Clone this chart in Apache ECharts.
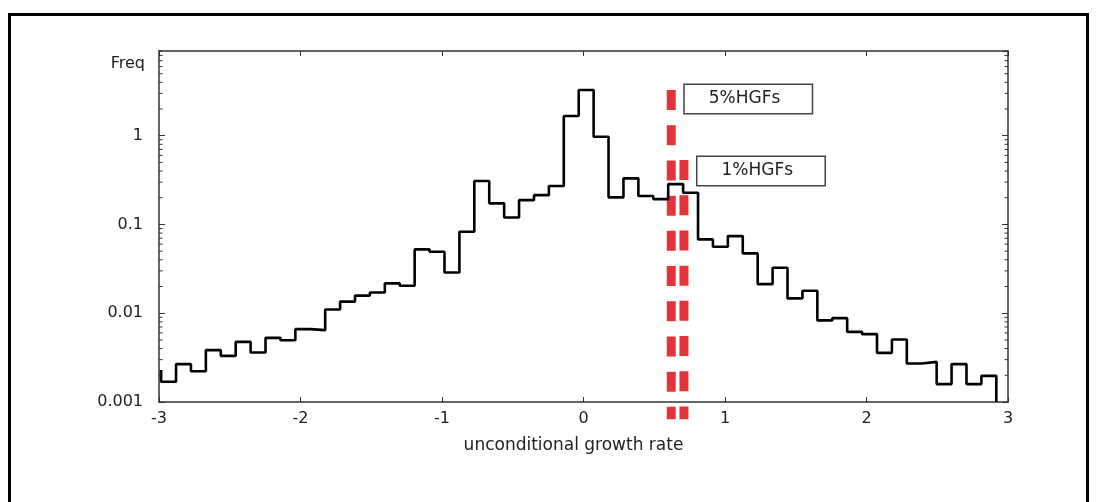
<!DOCTYPE html>
<html>
<head>
<meta charset="utf-8">
<title>unconditional growth rate</title>
<style>
  body { margin: 0; overflow: hidden; background: #fff; }
  #frame { position: absolute; left: 8px; top: 13px; width: 1081px; height: 600px;
           box-sizing: border-box; border: 3px solid #000; }
  #main { position: absolute; left: 0; top: 0; width: 1102px; height: 502px; }
</style>
</head>
<body>
<div id="frame"></div>
<div id="main"></div>
<script src="https://cdn.jsdelivr.net/npm/echarts@6/dist/echarts.min.js"></script>
<script type="text/javascript">
    // histogram bins (left edge of first bin, bin width) and frequencies
    var binStart = -2.985;
    var binWidth = 0.1054;
    var leftEdgeFreq = 0.0023;
    var freq = [0.00169, 0.00267, 0.00222, 0.00384, 0.00331, 0.00476, 0.00361, 0.00528,
                0.00497, 0.00662, 0.00645, 0.0110, 0.0135, 0.0158, 0.0171, 0.0217,
                0.0204, 0.0524, 0.0492, 0.0288, 0.0827, 0.309, 0.173, 0.120,
                0.188, 0.214, 0.271, 1.67, 3.27, 0.975, 0.202, 0.331,
                0.209, 0.193, 0.285, 0.228, 0.0679, 0.0561, 0.074, 0.0472,
                0.0213, 0.0325, 0.0147, 0.0179, 0.0083, 0.0088, 0.00617, 0.00581,
                0.00358, 0.00506, 0.00272, 0.00283, 0.00159, 0.00267, 0.00159, 0.00197];

    // thresholds for high growth firms
    var hgfNames = ['5%HGFs', '1%HGFs'];
    var hgfX = [0.620, 0.710];
    var hgfTop = [3.27, 0.532];
    var hgfBottom = 0.00064;

    var xTicks = [-3, -2, -1, 0, 1, 2, 3];
    var yTicks = [0.001, 0.01, 0.1, 1];
    var minorMantissa = [2, 3, 4, 5, 6, 7, 8, 9];

    var histData = [[binStart, leftEdgeFreq]];
    for (var i = 0; i < freq.length; i++) {
        histData.push([binStart + i * binWidth, freq[i]]);
    }
    var lastEdge = binStart + freq.length * binWidth;
    histData.push([lastEdge, freq[freq.length - 1]]);
    histData.push([lastEdge, 0.001]);

    // minor ticks of the log axis: 2..9 times each decade
    var minorTicks = [];
    yTicks.forEach(function (d) {
        minorMantissa.forEach(function (m) { minorTicks.push([-3, +(m * d).toPrecision(2)]); });
    });

    var font = 'DejaVu Sans';
    var frameColor = '#333';

    var myChart = echarts.init(document.getElementById('main'));

    var hgfSeries = hgfNames.map(function (name, k) {
        return {
            name: name,
            type: 'line',
            clip: false,
            silent: true,
            symbol: 'circle',
            symbolSize: 1,
            showSymbol: true,
            itemStyle: { color: 'rgba(0,0,0,0)' },
            lineStyle: { color: '#e3343b', width: 9, type: [20, 15.2], cap: 'butt' },
            data: [
                { value: [hgfX[k], hgfTop[k]],
                  label: {
                      show: true,
                      position: 'right',
                      distance: 13,
                      offset: [0, k === 0 ? 9 : 11],
                      formatter: name,
                      fontFamily: font,
                      fontSize: 17,
                      color: '#222',
                      backgroundColor: '#fff',
                      borderColor: '#444',
                      borderWidth: 1.5,
                      width: 93,
                      height: 28,
                      lineHeight: 28,
                      padding: [0, 10, 0, 24]
                  } },
                [hgfX[k], hgfBottom]
            ]
        };
    });

    myChart.setOption({
        animation: false,
        grid: { left: 159, right: 94, top: 51, bottom: 100 },
        xAxis: [{
            type: 'value',
            min: -3, max: 3, interval: 1,
            name: 'unconditional growth rate',
            nameLocation: 'middle',
            nameGap: 35,
            nameTextStyle: { fontFamily: font, fontSize: 17, color: '#222', padding: [0, 20, 0, 0] },
            axisLine: { show: true, onZero: false, lineStyle: { color: frameColor, width: 1.5 } },
            axisTick: { inside: true, length: 5, lineStyle: { color: frameColor } },
            axisLabel: { margin: 9, fontFamily: font, fontSize: 16, color: '#222',
                         formatter: function (v) { return xTicks.indexOf(v) >= 0 ? String(v) : ''; } },
            splitLine: { show: false }
        }, {
            type: 'value',
            position: 'top',
            min: -3, max: 3, interval: 1,
            axisLine: { show: true, onZero: false, lineStyle: { color: frameColor, width: 1.5 } },
            axisTick: { inside: true, length: 5, lineStyle: { color: frameColor } },
            axisLabel: { show: false },
            splitLine: { show: false }
        }],
        yAxis: [{
            type: 'log',
            logBase: 10,
            min: 0.001, max: 9,
            name: 'Freq',
            nameLocation: 'end',
            nameGap: -13,
            nameTextStyle: { fontFamily: font, fontSize: 16, color: '#222',
                             align: 'right', verticalAlign: 'middle', padding: [0, 14, 0, 0] },
            axisLine: { show: true, onZero: false, lineStyle: { color: frameColor, width: 1.5 } },
            axisTick: { inside: true, length: 6, lineStyle: { color: frameColor } },
            axisLabel: { margin: 16, fontFamily: font, fontSize: 16, color: '#222', showMaxLabel: false,
                         formatter: function (v) {
                             for (var j = 0; j < yTicks.length; j++) {
                                 if (Math.abs(v - yTicks[j]) < yTicks[j] * 1e-6) return String(yTicks[j]);
                             }
                             return '';
                         } },
            splitLine: { show: false }
        }, {
            type: 'log',
            logBase: 10,
            min: 0.001, max: 9,
            position: 'right',
            axisLine: { show: true, onZero: false, lineStyle: { color: frameColor, width: 1.5 } },
            axisTick: { inside: true, length: 6, lineStyle: { color: frameColor } },
            axisLabel: { show: false },
            splitLine: { show: false }
        }],
        series: [{
            name: 'minor ticks',
            type: 'custom',
            silent: true,
            clip: false,
            data: minorTicks,
            renderItem: function (params, api) {
                var y = api.coord([api.value(0), api.value(1)])[1];
                var left = params.coordSys.x;
                var right = left + params.coordSys.width;
                var st = { stroke: frameColor, lineWidth: 1 };
                return {
                    type: 'group',
                    children: [
                        { type: 'line', shape: { x1: left, y1: y, x2: left + 3.5, y2: y }, style: st },
                        { type: 'line', shape: { x1: right - 3.5, y1: y, x2: right, y2: y }, style: st }
                    ]
                };
            }
        }].concat(hgfSeries, [{
            name: 'Freq',
            type: 'line',
            step: 'end',
            showSymbol: false,
            silent: true,
            lineStyle: { color: '#000', width: 2.6 },
            data: histData
        }])
    });
</script>
</body>
</html>
